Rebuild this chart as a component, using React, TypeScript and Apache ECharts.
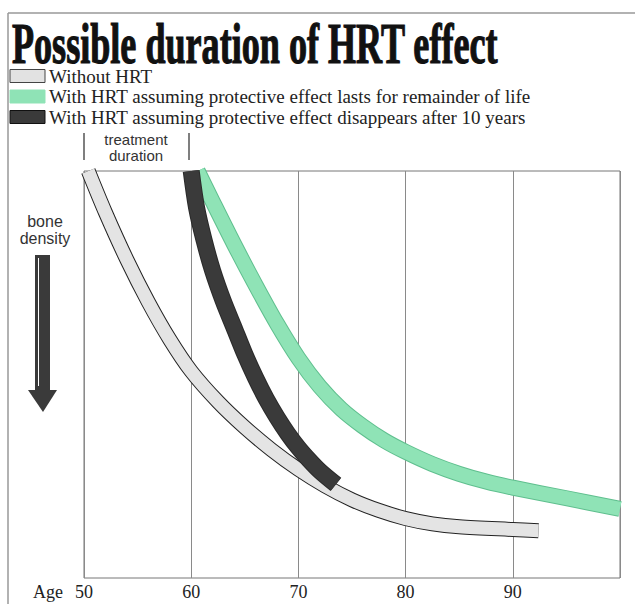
import React, { useEffect, useRef } from "react";
import * as echarts from "echarts";

// Age (years) and relative bone density (arbitrary units, 0-100)
const withoutHrt: [number, number][] = [
  [50.4, 100], [52, 89.8], [54, 78.2], [56, 67.8], [58, 58.6], [60, 50.8],
  [62.5, 43.3], [65, 37], [67.5, 31.5], [70, 26.7], [72.5, 22.6], [75, 19.2],
  [77.5, 16.6], [80, 14.6], [82.5, 13.3], [85, 12.6], [90, 11.9], [92.4, 11.6],
];
const hrtLifelong: [number, number][] = [
  [60.6, 100], [62, 92.5], [64, 82], [66, 72], [68, 62.5], [70, 54], [72, 47],
  [74, 41.5], [76, 37.3], [78, 33.8], [80, 31], [82.5, 28], [85, 25.6],
  [87.5, 23.7], [90, 22.2], [95, 19.6], [100, 17],
];
const hrtTenYears: [number, number][] = [
  [60, 100], [60.5, 91], [61.2, 83], [62, 75.5], [63, 68], [64, 61.5], [65, 55],
  [66, 49.2], [67, 44], [68, 39.5], [69, 35.5], [70, 32], [71, 29], [72, 26.3], [73.5, 23],
];
const xTicks = [50, 60, 70, 80, 90];
const legendLabels = [
  "Without HRT",
  "With HRT assuming protective effect lasts for remainder of life",
  "With HRT assuming protective effect disappears after 10 years",
];
const titleText = "Possible duration of HRT effect";

const SERIF = '"Liberation Serif", "Times New Roman", serif';
const SANS = '"Liberation Sans", Arial, sans-serif';

function band(data: [number, number][], fill: string, edge: string, w: number, z: number) {
  const base = {
    type: "line" as const,
    data,
    smooth: 0.3,
    showSymbol: false,
    symbol: "none",
    silent: true,
    clip: true,
  };
  return [
    { ...base, z, lineStyle: { color: edge, width: w + 2, cap: "butt", join: "round" } },
    { ...base, z: z + 1, lineStyle: { color: fill, width: w, cap: "butt", join: "round" } },
  ];
}

export default function App() {
  const ref = useRef<HTMLDivElement>(null);
  useEffect(() => {
    if (!ref.current) return;
    const chart = echarts.init(ref.current, undefined, { renderer: "svg" });
    const swatch = [
      { fill: "#e2e2e2", stroke: "#444" },
      { fill: "#8fe3b6", stroke: "#8fe3b6" },
      { fill: "#3a3a3a", stroke: "#111" },
    ];
    const rowY = [76, 96.5, 117];
    const graphics: any[] = [
      { type: "line", shape: { x1: 8, y1: 13, x2: 635, y2: 13 }, style: { stroke: "#999", lineWidth: 1.5 } },
      { type: "line", shape: { x1: 8, y1: 13, x2: 8, y2: 604 }, style: { stroke: "#999", lineWidth: 1.5 } },
      {
        type: "text", x: 12, y: 44, scaleX: 0.645,
        style: {
          text: titleText, font: `bold 56px ${SERIF}`, fill: "#111",
          stroke: "#111", lineWidth: 1.2,
          textAlign: "left", textVerticalAlign: "middle",
        },
      },
      // treatment duration bracket
      { type: "line", shape: { x1: 84, y1: 133, x2: 84, y2: 160 }, style: { stroke: "#555", lineWidth: 1.5 } },
      { type: "line", shape: { x1: 189, y1: 133, x2: 189, y2: 160 }, style: { stroke: "#555", lineWidth: 1.5 } },
      { type: "text", x: 136, y: 139, style: { text: "treatment", font: `15px ${SANS}`, fill: "#333", textAlign: "center", textVerticalAlign: "middle" } },
      { type: "text", x: 136, y: 155, style: { text: "duration", font: `15px ${SANS}`, fill: "#333", textAlign: "center", textVerticalAlign: "middle" } },
      // bone density label and arrow
      { type: "text", x: 45, y: 221, style: { text: "bone", font: `16px ${SANS}`, fill: "#333", textAlign: "center", textVerticalAlign: "middle" } },
      { type: "text", x: 45, y: 238, style: { text: "density", font: `16px ${SANS}`, fill: "#333", textAlign: "center", textVerticalAlign: "middle" } },
      { type: "rect", shape: { x: 35, y: 255, width: 15, height: 136 }, style: { fill: "#3a3a3a" } },
      { type: "line", shape: { x1: 38.5, y1: 258, x2: 38.5, y2: 386 }, style: { stroke: "#fff", lineWidth: 1 } },
      { type: "polygon", shape: { points: [[28, 390], [57, 390], [43, 412]] }, style: { fill: "#3a3a3a" } },
      { type: "text", x: 33, y: 592, style: { text: "Age", font: `18px ${SERIF}`, fill: "#222", textAlign: "left", textVerticalAlign: "middle" } },
    ];
    legendLabels.forEach((label, i) => {
      graphics.push({
        type: "rect",
        shape: { x: 10, y: rowY[i] - 6.5, width: 35, height: 13 },
        style: { fill: swatch[i].fill, stroke: swatch[i].stroke, lineWidth: 1 },
      });
      graphics.push({
        type: "text", x: 49, y: rowY[i],
        style: { text: label, font: `19px ${SERIF}`, fill: "#222", textAlign: "left", textVerticalAlign: "middle" },
      });
    });

    chart.setOption({
      animation: false,
      grid: { left: 84, right: 15, top: 171, bottom: 26, show: true, borderColor: "#777", borderWidth: 1, backgroundColor: "transparent" },
      xAxis: {
        type: "value", min: 50, max: 100, interval: 10,
        axisLine: { show: false }, axisTick: { show: false },
        axisLabel: {
          margin: 5, fontFamily: SERIF, fontSize: 18, color: "#222",
          formatter: (v: number) => (xTicks.includes(v) ? String(v) : ""),
        },
        splitLine: { show: true, lineStyle: { color: "#8a8a8a", width: 1 } },
      },
      yAxis: { type: "value", min: 0, max: 100, show: false },
      series: [
        ...band(hrtLifelong, "#8fe3b6", "#5fbf8e", 14, 2),
        ...band(withoutHrt, "#e4e4e4", "#222", 13, 4),
        ...band(hrtTenYears, "#3a3a3a", "#2a2a2a", 15, 6),
      ],
      graphic: graphics,
    });
    return () => chart.dispose();
  }, []);
  return <div ref={ref} style={{ position: "absolute", left: 0, top: 0, width: 635, height: 604, background: "#fff" }} />;
}
